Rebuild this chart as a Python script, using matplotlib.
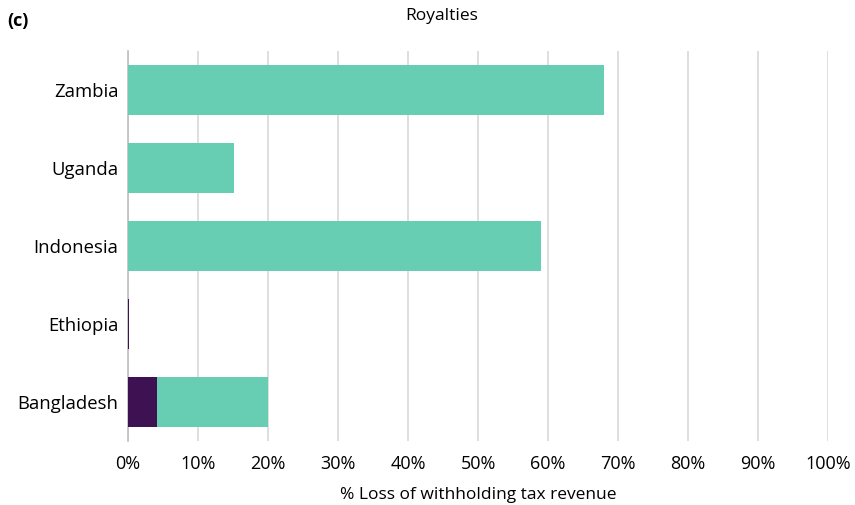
import matplotlib
matplotlib.use("Agg")
import matplotlib.pyplot as plt
import numpy as np

plt.rcParams['font.family'] = ['Open Sans', 'DejaVu Sans']

countries = ["Zambia", "Uganda", "Indonesia", "Ethiopia", "Bangladesh"]
dark_vals = [0, 0, 0, 0.15, 4.1]
green_vals = [68, 15.1, 59, 0, 15.9]
xticks = list(range(0, 101, 10))
xticklabels = [f"{t}%" for t in xticks]

fig = plt.figure(figsize=(8.55, 5.05), dpi=100)
ax = fig.add_axes([128/855, 1-441/505, 700/855, 390/505])

y = np.arange(len(countries))
ax.barh(y, dark_vals, height=0.645, color="#3D1152", zorder=3)
ax.barh(y, green_vals, left=dark_vals, height=0.645, color="#67CDB3", zorder=3)

ax.set_yticks(y)
ax.set_yticklabels(countries, fontsize=13.3)
ax.set_ylim(4.5, -0.5)
ax.set_xlim(0, 100)
ax.set_xticks(xticks)
ax.set_xticklabels(xticklabels, fontsize=13)
ax.tick_params(axis='x', length=0, pad=10)
ax.tick_params(axis='y', length=0, pad=7)
ax.xaxis.grid(True, color="#D9D9D9", linewidth=1.2, zorder=0)
for s in ["top", "right", "bottom"]:
    ax.spines[s].set_visible(False)
ax.spines["left"].set_color("#BFBFBF")
ax.spines["left"].set_linewidth(1.2)
ax.set_xlabel("% Loss of withholding tax revenue", fontsize=12.5, labelpad=10)

fig.text(442/855, 1-16/505, "Royalties", ha="center", va="center", fontsize=12.5)
fig.text(7/855, 1-21/505, "(c)", ha="left", va="center", fontsize=13, fontweight="bold")

fig.savefig("out.png", dpi=100)
